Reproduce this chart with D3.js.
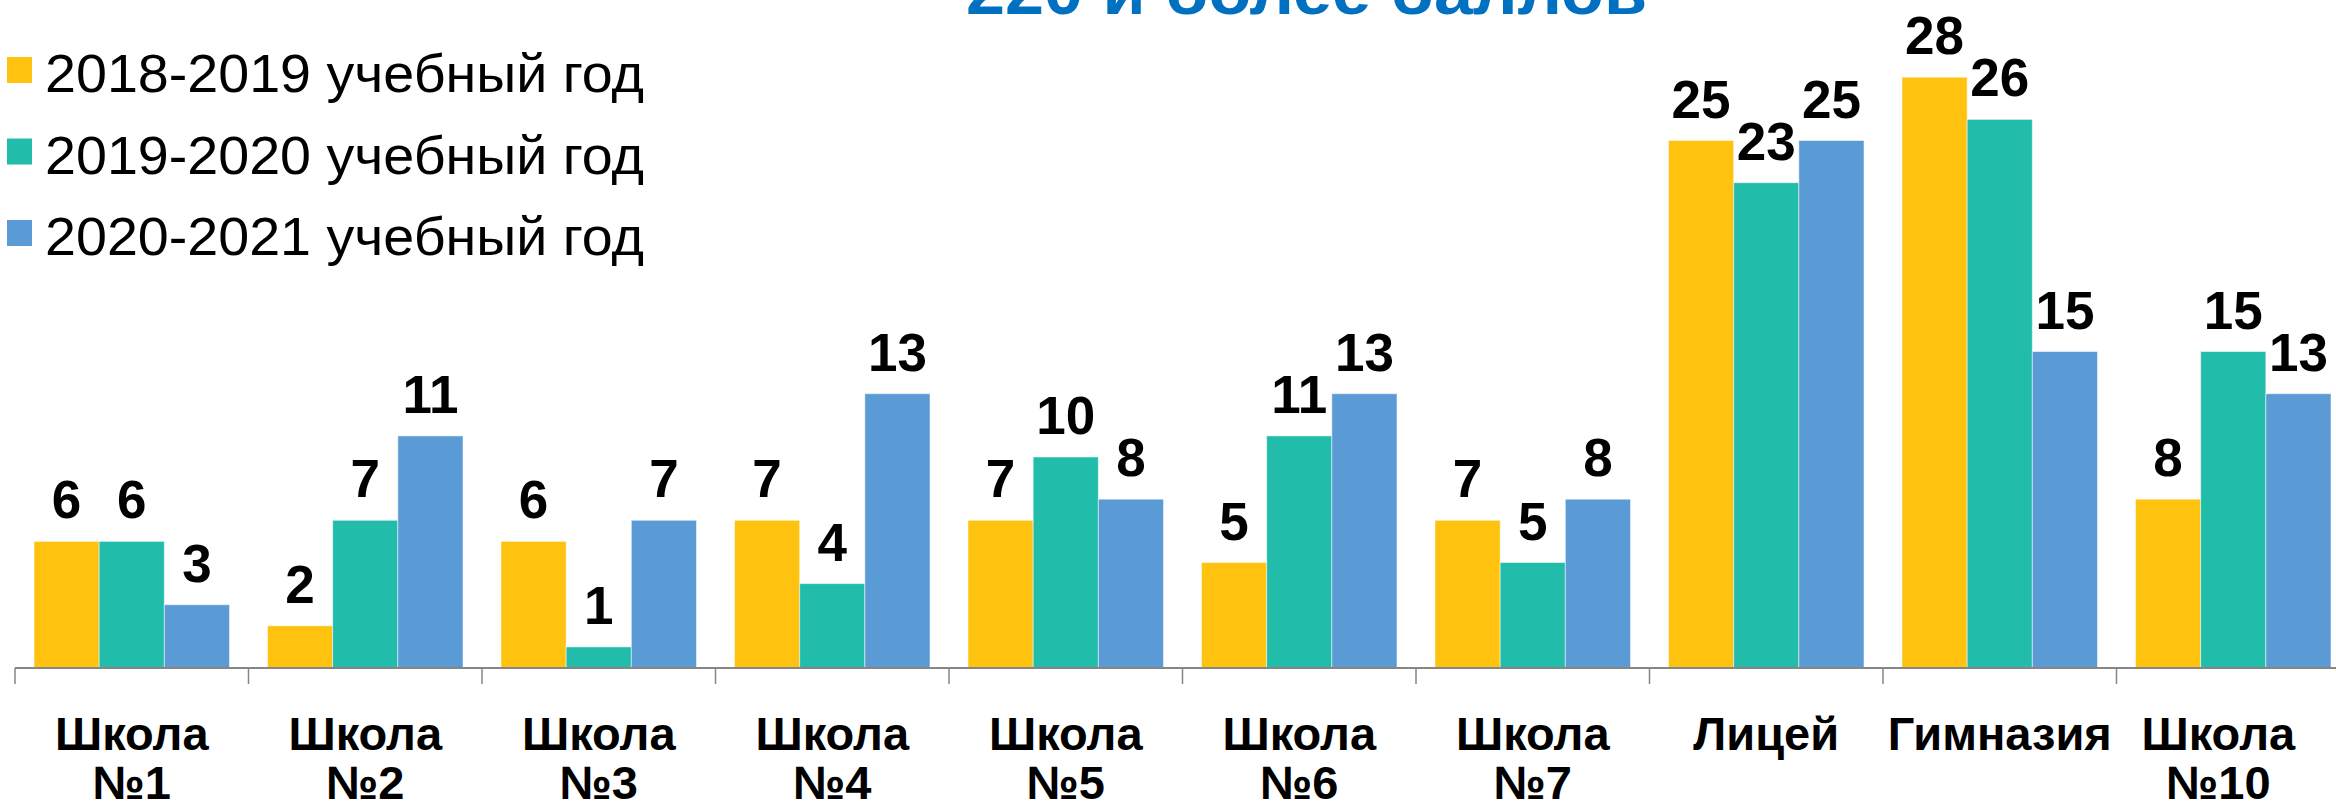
<!DOCTYPE html>
<meta charset="utf-8">
<style>
  body { margin: 0; background: #fff; }
  svg { display: block; font-family: "Liberation Sans", Arial, sans-serif; }
</style>
<svg width="2336" height="810"></svg>
<script src="https://d3js.org/d3.v7.min.js"></script>
<script>
var categories = ["Школа №1", "Школа №2", "Школа №3", "Школа №4", "Школа №5",
  "Школа №6", "Школа №7", "Лицей", "Гимназия", "Школа №10"]
var seriesNames = ["2018-2019 учебный год", "2019-2020 учебный год", "2020-2021 учебный год"]
var values2018 = [6, 2, 6, 7, 7, 5, 7, 25, 28, 8]
var values2019 = [6, 7, 1, 4, 10, 11, 5, 23, 26, 15]
var values2020 = [3, 11, 7, 13, 8, 13, 8, 25, 15, 13]
var colors = ["#FFC20E", "#22BCAA", "#5B9BD5"]
var title = "220 и более баллов"

var series = [values2018, values2019, values2020]
var svg = d3.select("svg")
var width = 2336, height = 810
var baseY = 668

var x0 = d3.scaleBand().domain(categories).range([15, 15 + 233.5 * categories.length])
var step = x0.step()
var x1 = d3.scaleBand().domain(d3.range(series.length))
  .range([step * 0.0814, step * (1 - 0.0814)])
var y = d3.scaleLinear().domain([0, 30]).range([baseY, 35])

// bars
var groups = svg.append("g").selectAll("g")
  .data(categories)
  .enter().append("g")
    .attr("transform", function (d) { return "translate(" + x0(d) + ",0)" })

groups.selectAll("rect")
  .data(function (d, i) { return series.map(function (s, k) { return { k: k, v: s[i] } }) })
  .enter().append("rect")
    .attr("x", function (d) { return x1(d.k) })
    .attr("width", x1.bandwidth())
    .attr("y", function (d) { return y(d.v) })
    .attr("height", function (d) { return baseY - y(d.v) })
    .attr("fill", function (d) { return colors[d.k] })
    .attr("stroke", "#fff")
    .attr("stroke-opacity", 0.5)
    .attr("stroke-width", 1)

groups.selectAll("text.val")
  .data(function (d, i) { return series.map(function (s, k) { return { k: k, v: s[i] } }) })
  .enter().append("text")
    .attr("class", "val")
    .attr("x", function (d) { return x1(d.k) + x1.bandwidth() / 2 })
    .attr("y", function (d) { return y(d.v) - 23 })
    .attr("text-anchor", "middle")
    .attr("font-size", 53)
    .attr("font-weight", "bold")
    .attr("fill", "#000")
    .text(function (d) { return d.v })

// axis
var axis = d3.axisBottom(x0).tickSize(0).tickFormat("")
var axisG = svg.append("g").attr("transform", "translate(0," + baseY + ")").call(axis)
axisG.select(".domain").attr("stroke", "#868686").attr("stroke-width", 2)
  .attr("d", "M15,0H" + width)
axisG.selectAll(".tick").remove()
var tickPos = categories.map(function (c) { return x0(c) })
axisG.selectAll("line.sep")
  .data(tickPos)
  .enter().append("line")
    .attr("class", "sep")
    .attr("x1", function (d) { return d }).attr("x2", function (d) { return d })
    .attr("y1", 0).attr("y2", 16)
    .attr("stroke", "#868686").attr("stroke-width", 1.5)

// category labels
var catLabels = svg.append("g").selectAll("text")
  .data(categories)
  .enter().append("text")
    .attr("text-anchor", "middle")
    .attr("font-size", 47)
    .attr("font-weight", "bold")
    .attr("fill", "#000")
catLabels.each(function (d) {
  var t = d3.select(this)
  var words = d.split(" ")
  var cx = x0(d) + step / 2
  words.forEach(function (w, i) {
    t.append("tspan").attr("x", cx).attr("y", 750 + i * 49).text(w)
  })
  var bb = this.getBBox()
  var over = bb.x + bb.width - (width - 40)
  if (over > 0) t.selectAll("tspan").attr("x", cx - over)
})

// legend
var legend = svg.append("g").selectAll("g")
  .data(seriesNames)
  .enter().append("g")
    .attr("transform", function (d, i) { return "translate(0," + (i * 81.5) + ")" })
legend.append("rect")
  .attr("x", 7).attr("y", 57).attr("width", 25).attr("height", 26)
  .attr("fill", function (d, i) { return colors[i] })
legend.append("text")
  .attr("x", 45).attr("y", 92)
  .attr("font-size", 54)
  .attr("fill", "#000")
  .attr("textLength", 599)
  .attr("lengthAdjust", "spacingAndGlyphs")
  .text(function (d) { return d })

// title (cut off at the top in the original)
svg.append("text")
  .attr("x", 966).attr("y", 14)
  .attr("font-size", 66)
  .attr("font-weight", "bold")
  .attr("fill", "#0070C0")
  .attr("textLength", 681)
  .attr("lengthAdjust", "spacingAndGlyphs")
  .text(title)
</script>
